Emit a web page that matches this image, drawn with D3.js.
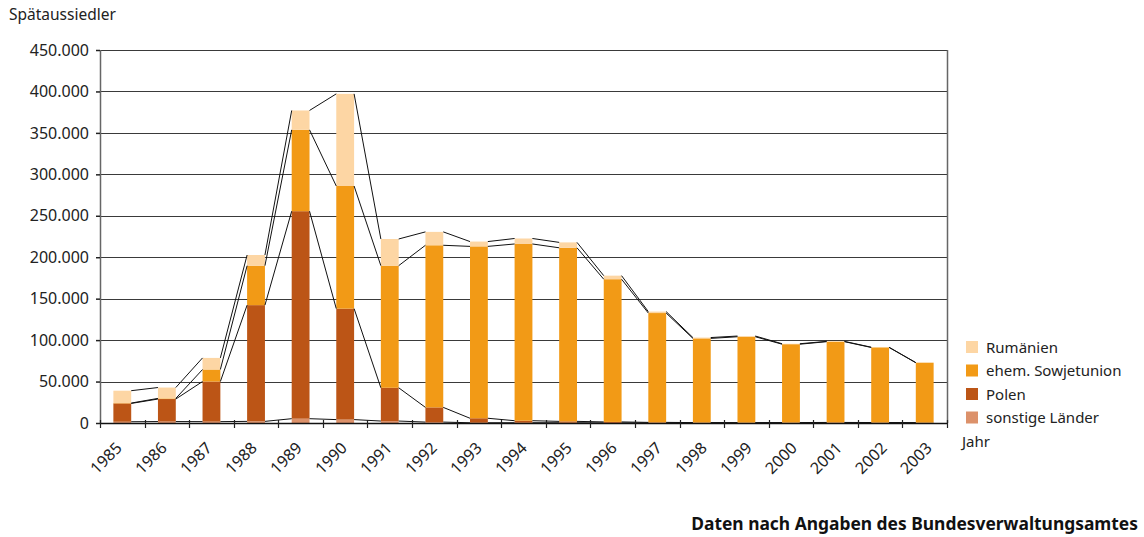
<!DOCTYPE html>
<html>
<head>
<meta charset="utf-8">
<script src="https://cdn.jsdelivr.net/npm/d3@7"></script>
<style>
	body { margin: 0; background: #fff; }
	svg { display: block; font-family: "Noto Sans", sans-serif; }
</style>
</head>
<body>
<div id="chart"></div>
<script>

// data (Spätaussiedler by origin)
var years = ["1985","1986","1987","1988","1989","1990","1991","1992","1993","1994",
	"1995","1996","1997","1998","1999","2000","2001","2002","2003"];
var sonstige = [1509,1717,1622,1973,5194,4101,2368,1101,299,322,293,111,60,37,34,26,47,20,15];
var polen = [22075,27188,48423,140226,250340,133872,40129,17742,5431,2440,1677,1175,687,488,428,484,623,553,444];
var sowjet = [460,753,14488,47572,98134,147950,147320,195576,207347,213214,209409,172181,131895,101550,103599,94558,97434,90587,72289];
var rumaenien = [14924,13130,13990,12902,23387,111150,32178,16146,5811,6615,6519,4284,1777,1005,855,547,380,256,137];
var yTicks = [0,50000,100000,150000,200000,250000,300000,350000,400000,450000];

var seriesNames = ["sonstige Länder","Polen","ehem. Sowjetunion","Rumänien"];
var seriesValues = [sonstige, polen, sowjet, rumaenien];
var colors = ["#dc916a","#bc5516","#f29a16","#fdd6a4"];

var width = 1144, height = 537;
var plot = { left: 100, right: 947, top: 50, bottom: 423 };

var svg = d3.select("#chart").append("svg")
	.attr("width", width)
	.attr("height", height);

// build rows for the stack
var rows = years.map(function(y, i){
	var r = { year: y };
	seriesNames.forEach(function(s, k){ r[s] = seriesValues[k][i]; });
	return r;
});
var stacked = d3.stack().keys(seriesNames)(rows);

var x = d3.scaleBand()
	.domain(years)
	.range([plot.left, plot.right])
	.paddingInner(0.6)
	.paddingOuter(0.3);

// labels sit slightly wider apart than the bars
var xLabel = d3.scalePoint()
	.domain(years)
	.range([123, 933]);

var y = d3.scaleLinear()
	.domain([0, 450000])
	.range([plot.bottom, plot.top]);

var fmt = function(d){ return d3.format(",")(d).replace(/,/g, "."); };

// gridlines
svg.append("g").selectAll("line")
	.data(yTicks.slice(1))
	.enter().append("line")
		.attr("x1", plot.left).attr("x2", plot.right)
		.attr("y1", function(d){ return Math.round(y(d)) + 0.5; })
		.attr("y2", function(d){ return Math.round(y(d)) + 0.5; })
		.style("stroke", "#3a3a3a")
		.style("stroke-width", 1.2);

// bars
svg.append("g").selectAll("g")
	.data(stacked)
	.enter().append("g")
		.style("fill", function(d, i){ return colors[i]; })
	.selectAll("rect")
	.data(function(d){ return d; })
	.enter().append("rect")
		.attr("x", function(d){ return x(d.data.year); })
		.attr("width", x.bandwidth())
		.attr("y", function(d){ return y(d[1]); })
		.attr("height", function(d){ return y(d[0]) - y(d[1]); });

// series lines between bars
stacked.forEach(function(s){
	var segs = [];
	for (var i = 0; i < s.length - 1; i++){
		segs.push([
			[x(years[i]) + x.bandwidth(), y(s[i][1])],
			[x(years[i+1]), y(s[i+1][1])]
		]);
	}
	svg.append("g").selectAll("line")
		.data(segs)
		.enter().append("line")
			.attr("x1", function(d){ return d[0][0]; })
			.attr("y1", function(d){ return d[0][1]; })
			.attr("x2", function(d){ return d[1][0]; })
			.attr("y2", function(d){ return d[1][1]; })
			.style("stroke", "#111")
			.style("stroke-width", 1);
});

// plot frame (left, right)
svg.append("line")
	.attr("x1", plot.left + 0.5).attr("x2", plot.left + 0.5)
	.attr("y1", plot.top).attr("y2", plot.bottom)
	.style("stroke", "#666").style("stroke-width", 1.5);
svg.append("line")
	.attr("x1", plot.right + 0.5).attr("x2", plot.right + 0.5)
	.attr("y1", plot.top).attr("y2", plot.bottom)
	.style("stroke", "#666").style("stroke-width", 1.5);

// y axis
var yAxis = d3.axisLeft(y)
	.tickValues(yTicks)
	.tickFormat(fmt)
	.tickSize(4)
	.tickPadding(7);
var gy = svg.append("g")
	.attr("transform", "translate(" + plot.left + ",0)")
	.call(yAxis);
gy.select(".domain").remove();
gy.selectAll(".tick line").style("stroke", "#222").style("stroke-width", 1.5);
gy.selectAll("text")
	.style("font-family", "Noto Sans")
	.style("font-size", "16px")
	.style("fill", "#222");

// x axis line
svg.append("line")
	.attr("x1", plot.left).attr("x2", plot.right)
	.attr("y1", plot.bottom + 0.5).attr("y2", plot.bottom + 0.5)
	.style("stroke", "#111").style("stroke-width", 1.5);

// x ticks at category boundaries
var bounds = d3.range(years.length + 1).map(function(i){ return plot.left + i * x.step(); });
svg.append("g").selectAll("line")
	.data(bounds)
	.enter().append("line")
		.attr("x1", function(d){ return Math.round(d) + 0.5; })
		.attr("x2", function(d){ return Math.round(d) + 0.5; })
		.attr("y1", plot.bottom - 3)
		.attr("y2", plot.bottom + 5)
		.style("stroke", "#222")
		.style("stroke-width", 1.2);

// x labels
svg.append("g").selectAll("text")
	.data(years)
	.enter().append("text")
		.text(function(d){ return d; })
		.attr("transform", function(d){
			return "translate(" + xLabel(d) + "," + (plot.bottom + 26) + ") rotate(-45)";
		})
		.style("text-anchor", "end")
		.style("font-size", "16px")
		.style("fill", "#222");

// title
svg.append("text")
	.text("Spätaussiedler")
	.attr("x", 9).attr("y", 20)
	.style("font-size", "15.5px")
	.style("fill", "#222");

// legend
var legendNames = seriesNames.slice().reverse();
var legendColors = colors.slice().reverse();
var legend = svg.append("g").selectAll("g")
	.data(legendNames)
	.enter().append("g")
		.attr("transform", function(d, i){ return "translate(966," + (341 + i * 23.5) + ")"; });
legend.append("rect")
	.attr("width", 12).attr("height", 12)
	.style("fill", function(d, i){ return legendColors[i]; });
legend.append("text")
	.text(function(d){ return d; })
	.attr("x", 20).attr("y", 11.5)
	.style("font-size", "15px")
	.style("fill", "#222");

svg.append("text")
	.text("Jahr")
	.attr("x", 962).attr("y", 447)
	.style("font-size", "15px")
	.style("fill", "#222");

// source
svg.append("text")
	.text("Daten nach Angaben des Bundesverwaltungsamtes")
	.attr("x", 1138).attr("y", 530)
	.style("text-anchor", "end")
	.style("font-size", "17.4px")
	.style("font-weight", "bold")
	.style("fill", "#111");

</script>
</body>
</html>
